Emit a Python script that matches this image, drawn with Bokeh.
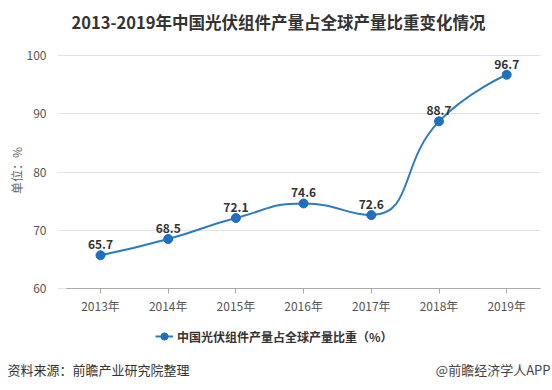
import math
from bokeh.plotting import figure
from bokeh.models import Range1d, FixedTicker, Label, Legend, LegendItem, Grid
from bokeh.core.properties import value
from bokeh.embed import file_html
from bokeh.resources import INLINE

# ---------------- data ----------------
years = ["2013年", "2014年", "2015年", "2016年", "2017年", "2018年", "2019年"]
shares = [65.7, 68.5, 72.1, 74.6, 72.6, 88.7, 96.7]
y_ticks = [60, 70, 80, 90, 100]
title_text = "2013-2019年中国光伏组件产量占全球产量比重变化情况"
series_name = "中国光伏组件产量占全球产量比重（%）"
unit_text = "单位：%"
source_text = "资料来源：前瞻产业研究院整理"
brand_text = "@前瞻经济学人APP"

FONT = "Noto Sans CJK SC"
LINE_C = "#2f7bbf"
DOT_C = "#1f6fc0"

# ---------------- layout (frame = whole canvas) ----------------
W, H = 552, 390
SX = 67.7                 # px per category
SY = 233 / 40             # px per percentage point
X0 = -100 / SX            # first category centre at px 100
X1 = X0 + W / SX
Y1 = 100 + 55 / SY        # value 100 at px 55
Y0 = Y1 - H / SY


def dx(px):
    return X0 + px / SX


def dy(py):
    return Y1 - py / SY


xs = list(range(len(years)))


# echarts-like smooth bezier segments computed in pixel space
def smooth_segments(xv, yv, smooth=0.5):
    P = [(a * SX, b * SY) for a, b in zip(xv, yv)]
    n = len(P)
    segs = []
    cp0 = P[0]
    for i in range(1, n):
        x, y = P[i]
        px_, py_ = P[i - 1]
        if i == n - 1:
            cp1 = (x, y)
            ncp0 = None
        else:
            nx, ny = P[i + 1]
            vx, vy = nx - px_, ny - py_
            lp = math.hypot(x - px_, y - py_)
            ln = math.hypot(nx - x, ny - y)
            r = ln / (ln + lp)
            ncx = x + vx * smooth * r
            ncy = y + vy * smooth * r
            ncx = max(min(ncx, max(nx, x)), min(nx, x))
            ncy = max(min(ncy, max(ny, y)), min(ny, y))
            vx, vy = ncx - x, ncy - y
            c1x = x - vx * lp / ln
            c1y = y - vy * lp / ln
            c1x = max(min(c1x, max(px_, x)), min(px_, x))
            c1y = max(min(c1y, max(py_, y)), min(py_, y))
            vx, vy = x - c1x, y - c1y
            ncx = x + vx * ln / lp
            ncy = y + vy * ln / lp
            cp1 = (c1x, c1y)
            ncp0 = (ncx, ncy)
        segs.append((P[i - 1], cp0, cp1, P[i]))
        cp0 = ncp0
    return segs


segs = smooth_segments(xs, shares)
bz = dict(
    x0=[s[0][0] / SX for s in segs], y0=[s[0][1] / SY for s in segs],
    cx0=[s[1][0] / SX for s in segs], cy0=[s[1][1] / SY for s in segs],
    cx1=[s[2][0] / SX for s in segs], cy1=[s[2][1] / SY for s in segs],
    x1=[s[3][0] / SX for s in segs], y1=[s[3][1] / SY for s in segs],
)

p = figure(width=W, height=H, output_backend="svg", toolbar_location=None,
           x_range=Range1d(X0, X1), y_range=Range1d(Y0, Y1),
           min_border=0)
p.outline_line_color = None
p.background_fill_color = "white"
p.border_fill_color = "white"

# grid
p.xgrid.grid_line_color = None
p.ygrid.ticker = FixedTicker(ticks=y_ticks)
p.ygrid.grid_line_color = "#e3e3e3"
p.ygrid.grid_line_width = 1
if "cross_bounds" in Grid.properties():
    p.ygrid.cross_bounds = (dx(57), dx(540))
else:
    p.ygrid.visible = False
    p.segment(x0=dx(57), x1=dx(540), y0=y_ticks, y1=y_ticks,
              line_color="#e3e3e3", line_width=1)

# y axis (drawn inside the canvas at a fixed place)
p.yaxis.fixed_location = dx(57)
p.yaxis.ticker = FixedTicker(ticks=y_ticks)
p.yaxis.axis_line_color = None
p.yaxis.major_tick_line_color = None
p.yaxis.minor_tick_line_color = None
p.yaxis.major_label_text_font = FONT
p.yaxis.major_label_text_font_size = "12px"
p.yaxis.major_label_text_color = "#555555"
p.yaxis.major_label_standoff = 5

# x axis
p.xaxis.fixed_location = y_ticks[0]
p.xaxis.bounds = (xs[0] - 0.5, xs[-1] + 0.5)
p.xaxis.ticker = FixedTicker(ticks=xs)
p.xaxis.major_label_overrides = {i: years[i] for i in xs}
p.xaxis.axis_line_color = "#aaaaaa"
p.xaxis.major_tick_line_color = "#aaaaaa"
p.xaxis.major_tick_out = 5
p.xaxis.major_tick_in = 0
p.xaxis.minor_tick_line_color = None
p.xaxis.major_label_text_font = FONT
p.xaxis.major_label_text_font_size = "12px"
p.xaxis.major_label_text_color = "#555555"
p.xaxis.major_label_standoff = 3

curve = p.bezier(**bz, line_color=LINE_C, line_width=2)
dots = p.scatter(xs, shares, size=9, fill_color=DOT_C, line_color=DOT_C)
p.text(x=xs, y=shares, text=[f"{v:.1f}" for v in shares],
       text_font=value(FONT), text_font_size="12px", text_font_style="bold",
       text_color="#333333", text_align="center", text_baseline="bottom",
       y_offset=-6)

legend = Legend(items=[LegendItem(label=series_name, renderers=[curve, dots])],
                location=(155, H - 346), orientation="horizontal",
                padding=0, margin=0, border_line_color=None,
                background_fill_alpha=0, glyph_width=18, glyph_height=20,
                label_standoff=4, label_height=20,
                label_text_font=FONT, label_text_font_size="12px",
                label_text_font_style="bold", label_text_color="#333333")
p.add_layout(legend)

p.add_layout(Label(x=dx(278), y=dy(21), text=title_text, text_align="center",
                   text_baseline="middle", text_font=FONT, text_font_size="16.5px",
                   text_font_style="bold", text_color="#333333"))
p.add_layout(Label(x=dx(16), y=dy(170), text=unit_text, angle=math.pi / 2,
                   text_align="center", text_baseline="middle", text_font=FONT,
                   text_font_size="12px", text_color="#666666"))
p.add_layout(Label(x=dx(7), y=dy(369), text=source_text, text_align="left",
                   text_baseline="middle", text_font=FONT, text_font_size="13px",
                   text_color="#333333"))
p.add_layout(Label(x=dx(550), y=dy(369), text=brand_text, text_align="right",
                   text_baseline="middle", text_font=FONT, text_font_size="13px",
                   text_color="#444444"))

open("out.html", "w").write(file_html(p, INLINE))
